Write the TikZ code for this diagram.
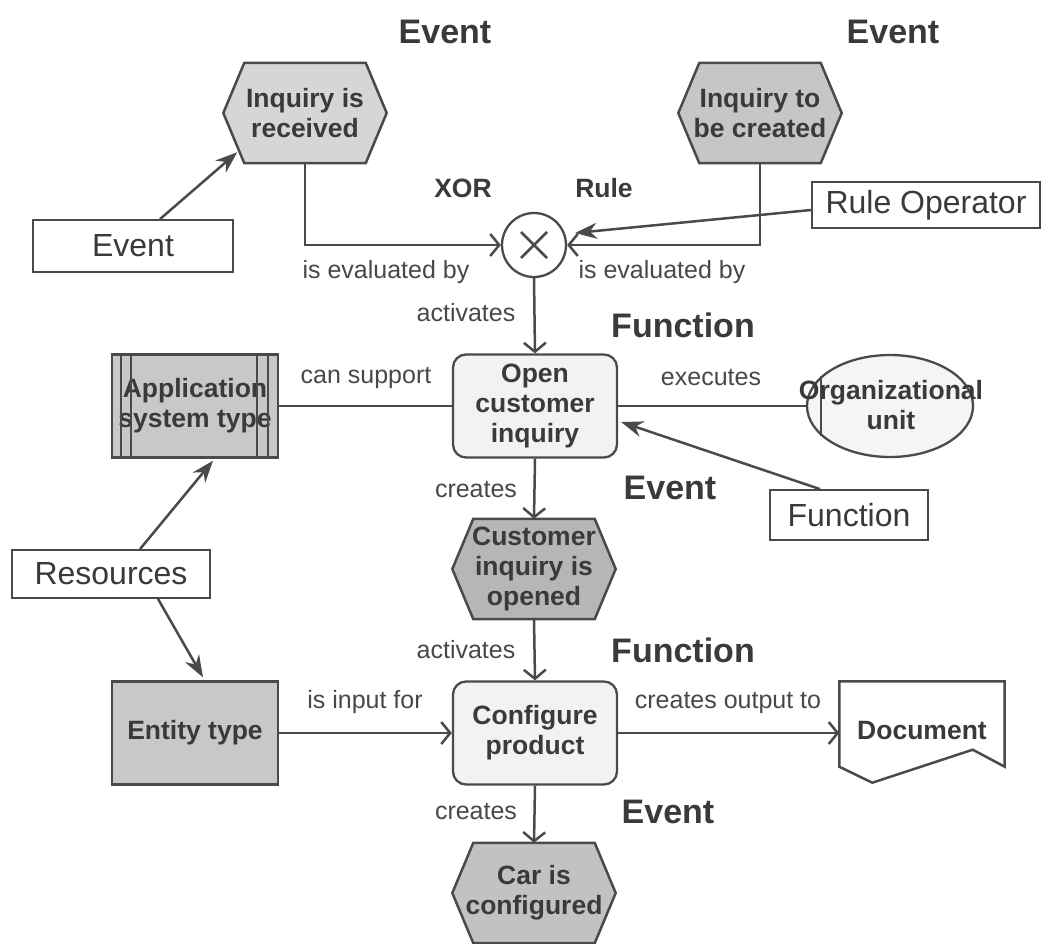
\documentclass[tikz,border=0pt]{standalone}
\usepackage{fontspec}
\setmainfont{Liberation Sans}
\usetikzlibrary{arrows.meta,shapes.geometric,backgrounds,calc}
\definecolor{ink}{HTML}{3A3A3A}
\definecolor{relcol}{HTML}{484848}
\definecolor{wire}{HTML}{4A4A4A}
\definecolor{evA}{HTML}{D6D6D6}
\definecolor{evB}{HTML}{C6C6C6}
\definecolor{evC}{HTML}{B6B6B6}
\definecolor{evD}{HTML}{C2C2C2}
\definecolor{datafill}{HTML}{C8C8C8}
\definecolor{funcfill}{HTML}{F2F2F2}
\definecolor{orgfill}{HTML}{F5F5F5}
\begin{document}
\begin{tikzpicture}[x=1pt,y=-1pt,
  every node/.style={text=ink},
  objtxt/.style={font=\fontsize{26.5}{30}\selectfont\bfseries, align=center, inner sep=0pt},
  eventnode/.style={objtxt, minimum width=163pt, minimum height=100pt},
  funcnode/.style={objtxt, draw=wire, line width=2.3pt, rounded corners=13pt, fill=funcfill, minimum width=164pt, minimum height=103pt},
  datanode/.style={objtxt, draw=wire, line width=2.3pt, fill=datafill, minimum width=166pt, minimum height=103pt},
  legend/.style={draw=wire, line width=1.8pt, fill=white, font=\fontsize{32}{36}\selectfont, inner sep=0pt},
  tag/.style={font=\fontsize{34}{38}\selectfont\bfseries, inner sep=0pt},
  smalltag/.style={font=\fontsize{26.5}{30}\selectfont\bfseries, inner sep=0pt},
  rel/.style={font=\fontsize{25}{28}\selectfont, text=relcol, inner sep=0pt},
  wireline/.style={draw=wire, line width=2.5pt},
  flow/.style={wireline, -{Straight Barb[length=9pt,width=22pt,line width=2.5pt]}},
  pointer/.style={wireline, -{Stealth[length=22pt,width=16pt]}},
]
\useasboundingbox (0,0) rectangle (1044,943);

% event objects (hexagons are drawn on the background layer)
\node[eventnode] (e1) at (305,113) {Inquiry is\\received};
\node[eventnode] (e2) at (760,113) {Inquiry to\\be created};
\node[eventnode] (e3) at (534,569) {Customer\\inquiry is\\opened};
\node[eventnode] (e4) at (534,893) {Car is\\configured};

\begin{scope}[on background layer]
  \fill[white] (0,0) rectangle (1044,943);
  \foreach \n/\c in {e1/evA, e2/evB, e3/evC, e4/evD} {
    \filldraw[wireline, fill=\c] (\n.west) -- ([xshift=21pt]\n.north west)
      -- ([xshift=-21pt]\n.north east) -- (\n.east)
      -- ([xshift=-21pt]\n.south east) -- ([xshift=21pt]\n.south west) -- cycle;
  }
\end{scope}

% rule operator
\node[circle, draw=wire, line width=2.3pt, fill=white, minimum size=64pt, inner sep=0pt] (xor) at (534,245) {};
\draw[wireline] ([shift={(-13,-13)}]xor.center) -- ([shift={(13,13)}]xor.center);
\draw[wireline] ([shift={(-13,13)}]xor.center) -- ([shift={(13,-13)}]xor.center);

% functions
\node[funcnode] (f1) at (535,406) {Open\\customer\\inquiry};
\node[funcnode] (f2) at (535,733) {Configure\\product};

% resources
\node[datanode] (app) at (195,406) {Application\\system type};
\draw[wireline, line width=2pt] ([xshift=10pt]app.north west) -- ([xshift=10pt]app.south west);
\draw[wireline, line width=2pt] ([xshift=20pt]app.north west) -- ([xshift=20pt]app.south west);
\draw[wireline, line width=2pt] ([xshift=-11pt]app.north east) -- ([xshift=-11pt]app.south east);
\draw[wireline, line width=2pt] ([xshift=-22pt]app.north east) -- ([xshift=-22pt]app.south east);
\node[datanode] (ent) at (195,733) {Entity type};

\node[ellipse, draw=wire, line width=2.3pt, fill=orgfill, minimum width=166pt, minimum height=102pt, inner sep=0pt] (org) at (890,406) {};
\draw[wireline, line width=2pt] ([xshift=15pt,yshift=30pt]org.west) -- ([xshift=15pt,yshift=-30pt]org.west);
\node[objtxt] (orgtxt) at (891,405) {Organizational\\unit};

% document symbol with wavy-cut lower edge
\node[minimum width=165pt, minimum height=85pt, inner sep=0pt] (doc) at (922,724) {};
\draw[wireline] (doc.north west) -- (doc.north east) -- (doc.south east)
  -- ([xshift=-32pt,yshift=17pt]doc.south east)
  -- ([xshift=33pt,yshift=-16pt]doc.south west) -- (doc.south west) -- cycle;
\node[objtxt] (doctxt) at ([yshift=-7pt]doc.center) {Document};

% legend boxes
\node[legend, minimum width=200pt, minimum height=52pt] (lev) at (133,246) {Event};
\node[legend, minimum width=228pt, minimum height=46pt] (lrule) at (926,205) {Rule Operator};
\node[legend, minimum width=158pt, minimum height=50pt] (lfun) at (849,515) {Function};
\node[legend, minimum width=198pt, minimum height=48pt] (lres) at (111,574) {Resources};

% type tags
\node[tag] (t1) at (445,32) {Event};
\node[tag] (t2) at (893,32) {Event};
\node[smalltag] (t3) at (463,188) {XOR};
\node[smalltag] (t4) at (604,188) {Rule};
\node[tag] (t5) at (683,325) {Function};
\node[tag] (t6) at (670,488) {Event};
\node[tag] (t7) at (683,650) {Function};
\node[tag] (t8) at (668,812) {Event};

% relation labels
\node[rel] (r1) at (386,272) {is evaluated by};
\node[rel] (r2) at (662,272) {is evaluated by};
\node[rel] (r3) at (466,313) {activates};
\node[rel] (r4) at (366,378) {can support};
\node[rel] (r5) at (711,378) {executes};
\node[rel] (r6) at (476,490) {creates};
\node[rel] (r7) at (466,650) {activates};
\node[rel] (r8) at (365,702) {is input for};
\node[rel] (r9) at (728,703) {creates output to};
\node[rel] (r10) at (476,812) {creates};

% control flow
\draw[flow] (e1.south) |- (xor.west);
\draw[flow] (e2.south) |- (xor.east);
\draw[flow] (xor.south) -- (f1.north);
\draw[flow] (f1.south) -- (e3.north);
\draw[flow] (e3.south) -- (f2.north);
\draw[flow] (f2.south) -- (e4.north);
\draw[flow] (ent.east) -- (f2.west);
\draw[flow] (f2.east) -- (f2.east -| doc.west);
\draw[wireline] (app.east) -- (f1.west);
\draw[wireline] (f1.east) -- (org.west);

% legend pointers
\draw[pointer] ([xshift=27pt]lev.north) -- ([xshift=14pt,yshift=11pt]e1.south west);
\draw[pointer] ([yshift=-5pt]lrule.west) -- ([xshift=41pt,yshift=12pt]xor.center);
\draw[pointer] ([xshift=-29pt]lfun.north) -- ([xshift=3pt,yshift=-16pt]f1.east);
\draw[pointer] ([xshift=29pt]lres.north) -- ([xshift=18pt,yshift=-2pt]app.south);
\draw[pointer] ([xshift=47pt]lres.south) -- ([xshift=8pt,yshift=3pt]ent.north);
\end{tikzpicture}
\end{document}
